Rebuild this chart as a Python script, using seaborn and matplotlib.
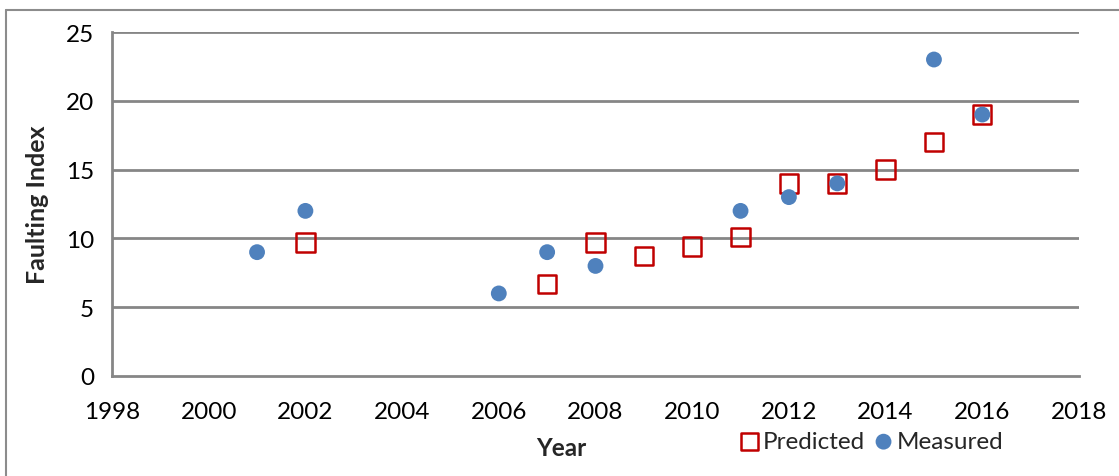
import numpy as np
import pandas as pd
import matplotlib
matplotlib.use("Agg")
import matplotlib.pyplot as plt
from matplotlib.lines import Line2D
import seaborn as sns

# Faulting index by year
measured_years = [2001, 2002, 2006, 2007, 2008, 2011, 2012, 2013, 2015, 2016]
measured_values = [9, 12, 6, 9, 8, 12, 13, 14, 23, 19]
predicted_years = [2002, 2007, 2008, 2009, 2010, 2011, 2012, 2013, 2014, 2015, 2016]
predicted_values = [9.7, 6.7, 9.7, 8.7, 9.4, 10.1, 14, 14, 15, 17, 19]

x_ticks = [1998, 2000, 2002, 2004, 2006, 2008, 2010, 2012, 2014, 2016, 2018]
y_ticks = [0, 5, 10, 15, 20, 25]

sns.set_theme(style="white")
plt.rcParams["font.family"] = ["Lato", "DejaVu Sans"]

pred = pd.DataFrame({"Year": predicted_years, "Faulting Index": predicted_values})
meas = pd.DataFrame({"Year": measured_years, "Faulting Index": measured_values})

fig = plt.figure(figsize=(11.19, 4.77), dpi=100)
ax = fig.add_axes([112 / 1119, 1 - 377 / 477, (1079 - 112) / 1119, (377 - 33) / 477])

grid_color = "#868686"
for yv in y_ticks[1:]:
    ax.axhline(yv, color=grid_color, lw=2, zorder=0)

sns.scatterplot(data=pred, x="Year", y="Faulting Index", ax=ax, marker="s", s=175,
                facecolor="none", edgecolor="#C00000", linewidth=1.8, label="Predicted", zorder=3)
sns.scatterplot(data=meas, x="Year", y="Faulting Index", ax=ax, marker="o", s=130,
                color="#4F81BD", edgecolor="none", label="Measured", zorder=4)

ax.set_xlim(1998, 2018)
ax.set_ylim(0, 25)
ax.set_xticks(x_ticks)
ax.set_yticks(y_ticks)
ax.tick_params(axis="both", which="major", labelsize=17.5, colors="black",
               length=8, width=2, direction="out")
ax.tick_params(axis="x", color=grid_color, pad=10)
ax.tick_params(axis="y", color=grid_color, pad=5)

for side in ["top", "right"]:
    ax.spines[side].set_visible(False)
for side in ["left", "bottom"]:
    ax.spines[side].set_color(grid_color)
    ax.spines[side].set_linewidth(2)

ax.set_xlabel("Year", fontsize=17.5, fontweight="bold")
ax.xaxis.set_label_coords(0.465, -0.175, transform=ax.transAxes)
ax.xaxis.label.set_verticalalignment("top")
ax.set_ylabel("Faulting Index", fontsize=18, fontweight="bold", labelpad=12)

leg = ax.legend(loc="upper left", bbox_to_anchor=(0.647, -0.16), ncol=2, frameon=False,
                fontsize=17.5, handletextpad=0.05, columnspacing=0.25, borderaxespad=0,
                handlelength=1.0, borderpad=0)
leg.legend_handles[0].set_sizes([150])
leg.legend_handles[1].set_sizes([130])

# Outer chart border (top and left edges)
fig.add_artist(Line2D([6 / 1119, 1], [1 - 11 / 477, 1 - 11 / 477], color="#8c8c8c", lw=1.5,
                      transform=fig.transFigure))
fig.add_artist(Line2D([6 / 1119, 6 / 1119], [0, 1 - 11 / 477], color="#8c8c8c", lw=1.5,
                      transform=fig.transFigure))

fig.savefig("out.png", dpi=100)
